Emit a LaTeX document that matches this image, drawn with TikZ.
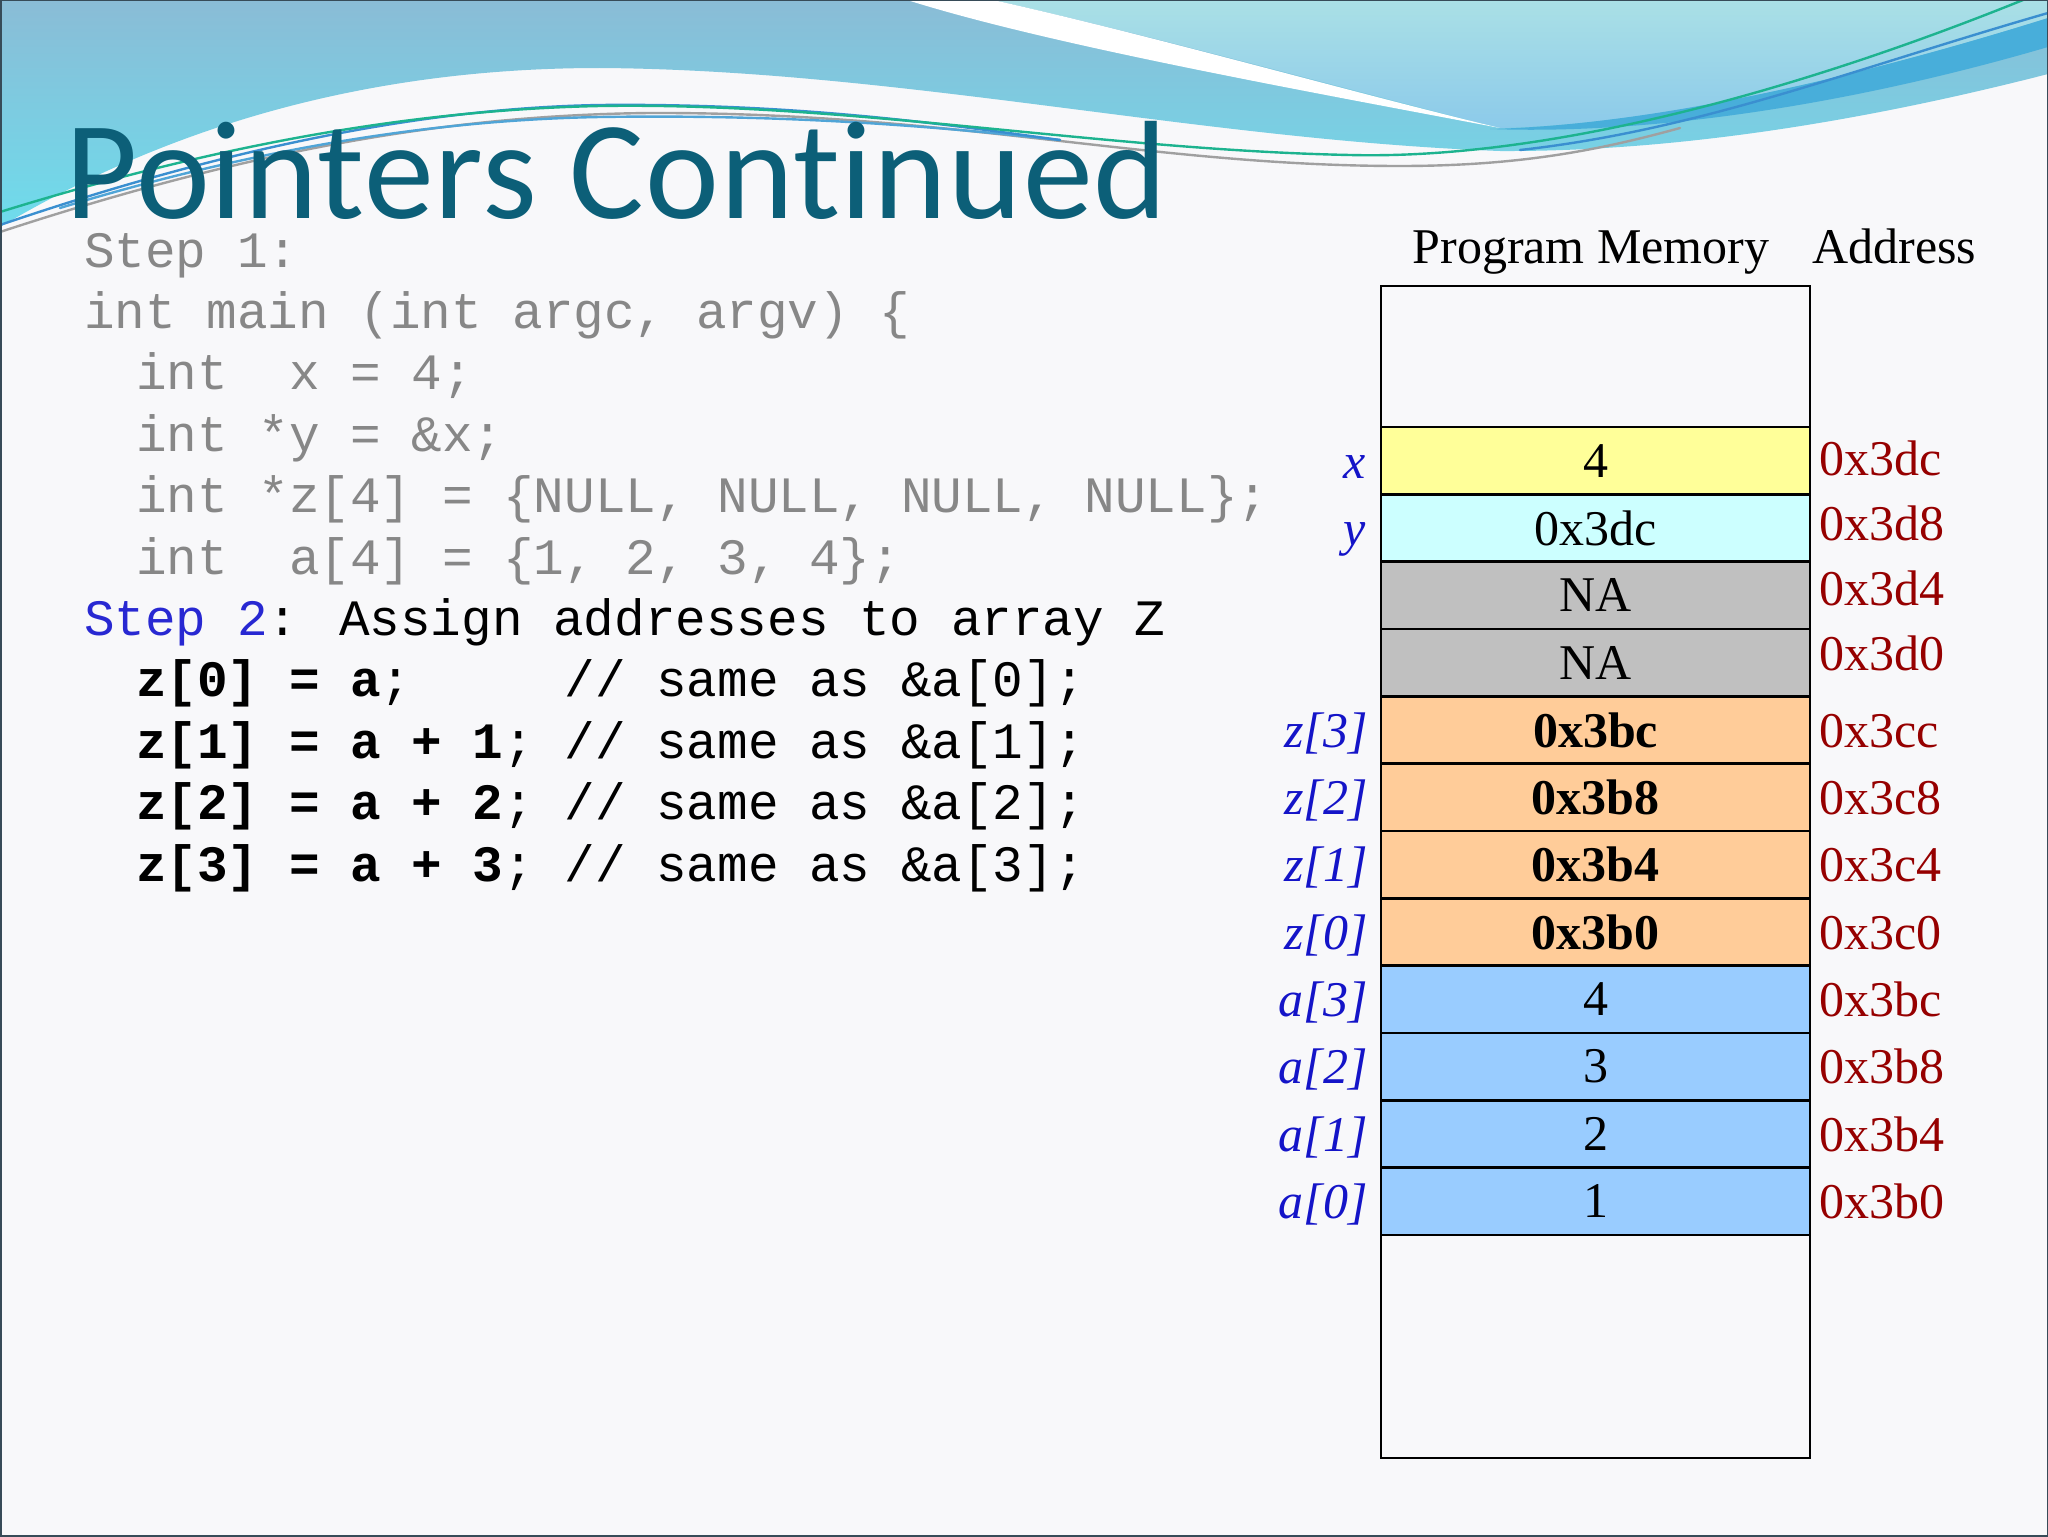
\documentclass[tikz,border=0pt]{standalone}
\usepackage{fontspec}
\setmainfont{Liberation Serif}
\newfontfamily\codefont{Liberation Mono}
\newfontfamily\titlefont[Ligatures={NoCommon,NoRare,NoContextual},LetterSpace=0.8]{Carlito}
\definecolor{bg}{RGB}{248,248,250}
\definecolor{hdrTop}{RGB}{138,188,214}
\definecolor{hdrBot}{RGB}{110,220,236}
\definecolor{ltTop}{RGB}{170,224,230}
\definecolor{ltBot}{RGB}{140,202,234}
\definecolor{darkband}{RGB}{72,174,218}
\definecolor{lnGreen}{RGB}{29,179,143}
\definecolor{lnBlue}{RGB}{58,143,208}
\definecolor{lnBlue2}{RGB}{80,165,215}
\definecolor{lnGray}{RGB}{160,160,160}
\definecolor{frame}{RGB}{55,75,88}
\definecolor{titlecol}{RGB}{12,95,120}
\definecolor{codegray}{RGB}{135,135,135}
\definecolor{stepblue}{RGB}{40,40,210}
\definecolor{lblblue}{RGB}{20,20,200}
\definecolor{addrred}{RGB}{150,0,0}
\definecolor{cX}{RGB}{255,255,153}
\definecolor{cY}{RGB}{204,255,255}
\definecolor{cNA}{RGB}{192,192,192}
\definecolor{cZ}{RGB}{255,204,153}
\definecolor{cA}{RGB}{153,204,255}
\tikzset{
  code/.style={anchor=base west, inner sep=0pt, outer sep=0pt, font=\codefont\fontsize{25.5}{30}\selectfont, text=codegray},
  codeb/.style={code, text=black},
  cell/.style={draw=black, line width=1.25pt, minimum width=214.5pt, minimum height=33.67pt, inner sep=0pt, font=\fontsize{25}{30}\selectfont},
  lbl/.style={anchor=base east, inner sep=0pt, font=\itshape\fontsize{25}{30}\selectfont, text=lblblue},
  addr/.style={anchor=base west, inner sep=0pt, font=\fontsize{25}{30}\selectfont, text=addrred},
  hdr/.style={anchor=base, inner sep=0pt, font=\fontsize{25}{30}\selectfont, text=black},
  wline/.style={line width=1.2pt, line cap=round}
}
\begin{document}
\begin{tikzpicture}[x=0.5pt,y=-0.5pt]
\useasboundingbox (0,0) rectangle (2048,1536);
\fill[bg] (0,0) rectangle (2048,1536);
% header waves
\shade[top color=hdrTop, bottom color=hdrBot] (0,0) -- (2048,0) -- (2048,74)
  .. controls (1900,112) and (1700,152) .. (1500,151)
  .. controls (1200,140) and (900,70) .. (600,68)
  .. controls (380,68) and (180,120) .. (0,227) -- cycle;
\shade[top color=ltTop, bottom color=ltBot] (993,0) -- (2048,0) -- (2048,18)
  .. controls (1850,80) and (1650,125) .. (1500,128)
  .. controls (1350,90) and (1150,35) .. (993,0) -- cycle;
\fill[darkband] (1490,129) .. controls (1650,125) and (1850,80) .. (2048,18)
  -- (2048,47) .. controls (1850,105) and (1650,135) .. (1490,129) -- cycle;
\fill[white] (907,0) -- (993,0) .. controls (1150,35) and (1350,92) .. (1500,128)
  .. controls (1300,90) and (1050,45) .. (907,0) -- cycle;
\draw[wline, lnGray] (0,232) .. controls (250,150) and (450,115) .. (650,113)
  .. controls (950,112) and (1150,166) .. (1400,166) .. controls (1520,166) and (1600,150) .. (1680,128);
\draw[wline, lnBlue2] (60,208) .. controls (250,150) and (430,120) .. (600,117)
  .. controls (800,114) and (950,128) .. (1060,140);
\draw[wline, lnBlue] (0,225) .. controls (220,150) and (420,108) .. (600,105)
  .. controls (800,103) and (950,125) .. (1060,140);
\draw[wline, lnBlue] (1520,150) .. controls (1700,130) and (1850,70) .. (2048,13);
\draw[wline, lnGreen] (0,212) .. controls (200,150) and (400,110) .. (600,106)
  .. controls (850,102) and (1100,150) .. (1350,155)
  .. controls (1550,160) and (1800,90) .. (2023,0);
% title
\node[anchor=base west, inner sep=0pt, text depth=0pt, font=\titlefont\fontsize{70}{84}\selectfont, text=titlecol] (title) at (65,218) {Pointers Cont\kern0pt inued};
% code
\node[code] (l1) at (84,267) {Step 1:};
\node[code] (l2) at (84,328.4) {int main (int argc, argv) \{};
\node[code] (l3) at (136,389.8) {int\ \ x = 4;};
\node[code] (l4) at (136,451.2) {int *y = \&x;};
\node[code] (l5) at (136,512.6) {int *z[4] = \{NULL, NULL, NULL, NULL\};};
\node[code] (l6) at (136,574) {int\ \ a[4] = \{1, 2, 3, 4\};};
\node[code] (l7) at (84,635.4) {\textcolor{stepblue}{Step 2}\textcolor{black}{: Assign addresses to array Z}};
\node[codeb] (l8) at (136,696.8) {{\bfseries z[0] = a};\ \ \ \ \ // same as \&a[0];};
\node[codeb] (l9) at (136,758.2) {{\bfseries z[1] = a + 1};\ // same as \&a[1];};
\node[codeb] (l10) at (136,819.6) {{\bfseries z[2] = a + 2};\ // same as \&a[2];};
\node[codeb] (l11) at (136,881) {{\bfseries z[3] = a + 3};\ // same as \&a[3];};
% memory headers
\node[hdr] (hmem) at (1591,263) {Program Memory};
\node[hdr, anchor=base west] (haddr) at (1812,263) {Address};
% memory cells
\node[cell, minimum height=70.5pt] (mtop) at (1595.5,356.5) {};
\node[cell, fill=cX] (cx) at (1595.5,460.67) {4};
\node[cell, fill=cY] (cy) at (1595.5,528) {0x3dc};
\node[cell, fill=cNA] (cna1) at (1595.5,595.33) {NA};
\node[cell, fill=cNA] (cna2) at (1595.5,662.67) {NA};
\node[cell, fill=cZ, font=\bfseries\fontsize{25}{30}\selectfont] (cz3) at (1595.5,730) {0x3bc};
\node[cell, fill=cZ, font=\bfseries\fontsize{25}{30}\selectfont] (cz2) at (1595.5,797.33) {0x3b8};
\node[cell, fill=cZ, font=\bfseries\fontsize{25}{30}\selectfont] (cz1) at (1595.5,864.67) {0x3b4};
\node[cell, fill=cZ, font=\bfseries\fontsize{25}{30}\selectfont] (cz0) at (1595.5,932) {0x3b0};
\node[cell, fill=cA] (ca3) at (1595.5,999.33) {4};
\node[cell, fill=cA] (ca2) at (1595.5,1066.67) {3};
\node[cell, fill=cA] (ca1) at (1595.5,1134) {2};
\node[cell, fill=cA] (ca0) at (1595.5,1201.33) {1};
\node[cell, minimum height=111.5pt] (mbot) at (1595.5,1346.5) {};
% variable labels
\node[lbl] (nx) at (1366,478) {x};
\node[lbl] (ny) at (1366,545) {y};
\node[lbl] (nz3) at (1368,747) {z[3]};
\node[lbl] (nz2) at (1368,814.3) {z[2]};
\node[lbl] (nz1) at (1368,881.7) {z[1]};
\node[lbl] (nz0) at (1368,949) {z[0]};
\node[lbl] (na3) at (1368,1016.3) {a[3]};
\node[lbl] (na2) at (1368,1083.7) {a[2]};
\node[lbl] (na1) at (1368,1151) {a[1]};
\node[lbl] (na0) at (1368,1218.3) {a[0]};
% addresses
\node[addr] (a1) at (1819,475) {0x3dc};
\node[addr] (a2) at (1819,540) {0x3d8};
\node[addr] (a3) at (1819,605) {0x3d4};
\node[addr] (a4) at (1819,670) {0x3d0};
\node[addr] (a5) at (1819,747) {0x3cc};
\node[addr] (a6) at (1819,814.3) {0x3c8};
\node[addr] (a7) at (1819,881.7) {0x3c4};
\node[addr] (a8) at (1819,949) {0x3c0};
\node[addr] (a9) at (1819,1016.3) {0x3bc};
\node[addr] (a10) at (1819,1083.7) {0x3b8};
\node[addr] (a11) at (1819,1151) {0x3b4};
\node[addr] (a12) at (1819,1218.3) {0x3b0};
% frame
\draw[frame, line width=1.5pt] (0,0) rectangle (2048,1536);
\end{tikzpicture}
\end{document}
